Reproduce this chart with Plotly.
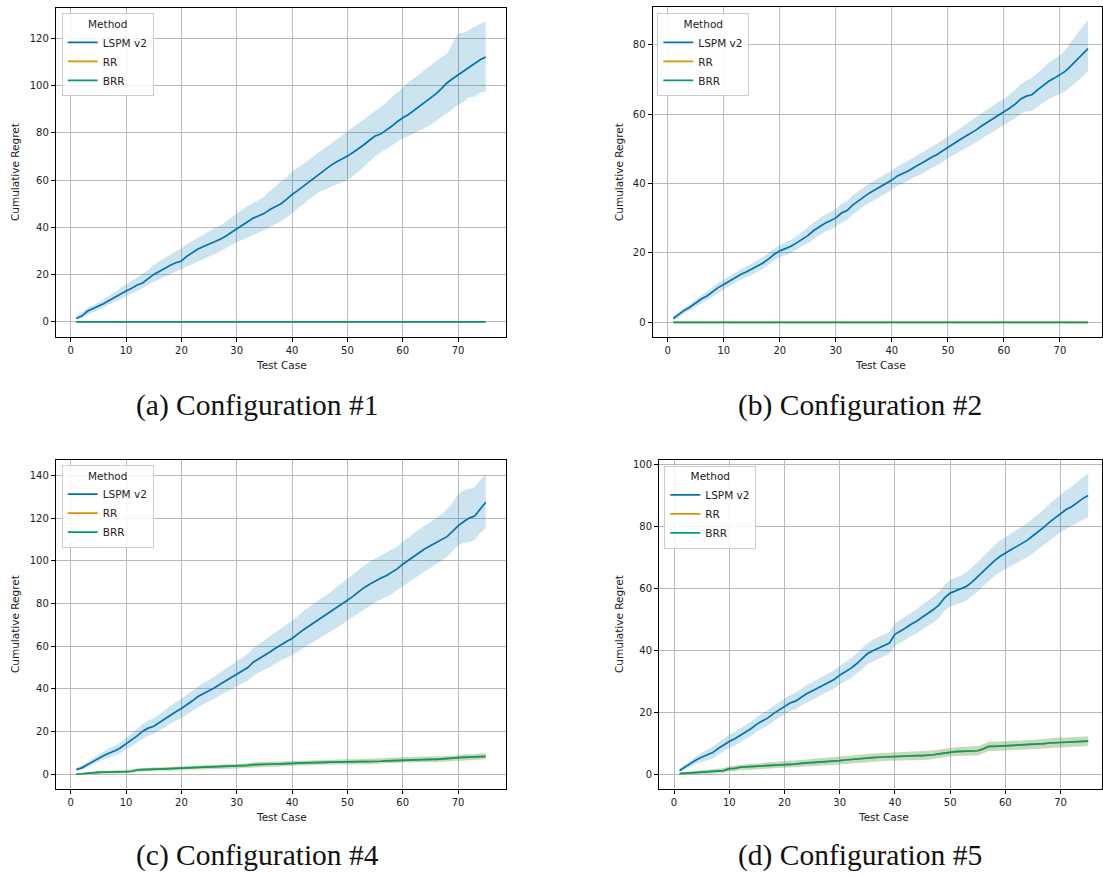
import plotly.graph_objects as go

W, H = 1103, 875

test_case = list(range(1, 76))
methods = ["LSPM v2", "RR", "BRR"]
colors = {"LSPM v2": "#0173b2", "RR": "#de8f05", "BRR": "#029e73"}
bands = {"LSPM v2": "rgba(1,115,178,0.2)", "RR": "rgba(222,143,5,0.2)", "BRR": "rgba(2,158,115,0.2)"}

# ---- Configuration #1 ----
cfg1_lspm = [1.5, 2.5, 4.5, 5.5, 6.5, 7.8, 9.2, 10.6, 11.7, 13.1,
             14.2, 15.6, 16.5, 18.2, 20.1, 21.3, 22.7, 24.0, 25.0, 25.8,
             27.8, 29.4, 30.8, 31.9, 32.8, 33.9, 35.0, 36.2, 37.8, 39.3,
             40.9, 42.5, 43.9, 44.9, 45.9, 47.5, 48.8, 50.0, 51.8, 53.9,
             55.5, 57.3, 59.2, 60.8, 62.8, 64.7, 66.2, 67.6, 68.8, 70.1,
             71.6, 73.2, 74.9, 76.8, 78.6, 79.4, 80.9, 82.7, 84.6, 86.3,
             87.6, 89.4, 91.0, 92.7, 94.5, 96.4, 98.6, 101.0, 102.8, 104.4,
             106.0, 107.5, 109.0, 110.8, 112.0]
cfg1_lspm_hi = [2.7, 4.0, 6.0, 7.0, 8.2, 9.6, 11.2, 12.7, 14.2, 15.9,
                17.2, 18.8, 20.2, 22.0, 24.1, 25.6, 27.0, 28.6, 30.0, 31.1,
                32.9, 34.2, 35.6, 36.8, 38.2, 39.6, 40.8, 42.2, 44.0, 45.9,
                47.5, 49.0, 50.4, 51.7, 53.0, 55.5, 57.2, 59.5, 61.2, 63.5,
                65.0, 66.8, 68.5, 70.2, 72.0, 73.8, 75.5, 77.3, 78.8, 80.4,
                82.2, 84.0, 85.8, 87.5, 89.2, 90.8, 92.8, 95.0, 97.2, 99.4,
                101.2, 103.0, 104.8, 106.6, 108.6, 110.6, 112.0, 113.2, 117.7, 122.0,
                122.2, 123.5, 124.8, 126.0, 127.0]
cfg1_lspm_lo = [0.8, 1.9, 3.2, 4.2, 5.1, 6.2, 7.5, 8.7, 9.9, 11.1,
                12.1, 13.2, 14.3, 15.7, 17.0, 18.0, 19.2, 20.3, 21.2, 22.0,
                23.2, 24.4, 25.5, 26.6, 27.6, 28.7, 29.9, 31.0, 32.4, 33.7,
                34.8, 35.8, 36.8, 37.8, 38.9, 40.0, 41.3, 42.6, 44.2, 45.9,
                47.8, 49.8, 51.8, 53.6, 55.1, 56.0, 56.9, 57.9, 59.0, 60.0,
                61.6, 63.5, 65.5, 67.8, 69.9, 71.4, 72.9, 74.5, 76.0, 77.6,
                78.5, 79.6, 80.8, 82.0, 83.2, 84.8, 86.6, 88.4, 90.0, 91.7,
                93.0, 95.0, 95.2, 97.0, 97.3]
cfg1_rr = [0.0] * 75
cfg1_rr_spread = [0.0] * 75

# ---- Configuration #2 ----
cfg2_lspm = [1.1, 2.4, 3.5, 4.4, 5.6, 6.7, 7.6, 8.9, 10.0, 10.9,
             11.9, 13.0, 13.8, 14.5, 15.3, 16.2, 17.1, 18.3, 19.6, 20.6,
             21.2, 21.9, 22.9, 24.0, 25.0, 26.4, 27.5, 28.5, 29.3, 30.1,
             31.5, 32.2, 33.8, 35.0, 36.3, 37.3, 38.2, 39.1, 40.0, 41.0,
             42.2, 42.9, 43.7, 44.7, 45.5, 46.5, 47.5, 48.3, 49.4, 50.5,
             51.5, 52.5, 53.5, 54.4, 55.4, 56.6, 57.6, 58.5, 59.6, 60.6,
             61.7, 62.9, 64.4, 65.2, 65.6, 67.0, 68.3, 69.5, 70.4, 71.3,
             72.4, 74.0, 75.6, 77.2, 78.9]
cfg2_lspm_hi = [1.8, 3.1, 4.3, 5.3, 6.6, 7.8, 8.8, 10.2, 11.4, 12.3,
                13.3, 14.4, 15.3, 16.0, 16.9, 17.9, 18.8, 20.0, 21.2, 22.3,
                23.0, 23.8, 24.9, 26.1, 27.3, 28.8, 30.0, 31.0, 31.8, 32.7,
                34.2, 35.0, 36.6, 37.8, 39.0, 40.0, 41.0, 41.9, 42.8, 43.8,
                45.0, 45.8, 46.6, 47.6, 48.5, 49.6, 50.6, 51.4, 52.5, 53.7,
                54.7, 55.8, 56.9, 57.9, 59.0, 60.2, 61.3, 62.3, 63.5, 64.4,
                65.6, 67.0, 68.6, 69.7, 70.4, 71.9, 73.4, 74.8, 75.9, 77.0,
                78.6, 80.8, 83.0, 85.2, 87.0]
cfg2_lspm_lo = [0.4, 1.6, 2.7, 3.5, 4.6, 5.6, 6.4, 7.6, 8.6, 9.4,
                10.4, 11.5, 12.3, 13.0, 13.7, 14.5, 15.4, 16.5, 17.8, 18.8,
                19.4, 20.0, 21.0, 22.0, 22.8, 24.0, 25.1, 26.0, 26.8, 27.5,
                28.8, 29.5, 31.0, 32.2, 33.5, 34.5, 35.4, 36.3, 37.2, 38.2,
                39.4, 40.0, 40.8, 41.8, 42.5, 43.4, 44.4, 45.1, 46.2, 47.2,
                48.2, 49.1, 50.1, 50.9, 51.8, 53.0, 53.9, 54.7, 55.7, 56.8,
                57.8, 58.8, 60.2, 60.8, 61.0, 62.2, 63.3, 64.4, 65.1, 65.8,
                66.6, 67.9, 69.4, 70.8, 72.3]
cfg2_rr = [0.0] * 75
cfg2_rr_spread = [0.0] * 75

# ---- Configuration #4 ----
cfg4_lspm = [2.2, 3.0, 4.5, 6.0, 7.6, 8.8, 10.0, 11.0, 12.4, 14.2,
             16.0, 18.0, 20.2, 21.6, 22.5, 24.2, 26.0, 28.0, 29.3, 30.8,
             32.5, 34.4, 36.4, 37.7, 38.9, 40.5, 42.2, 43.8, 45.4, 47.0,
             48.4, 50.0, 52.5, 54.0, 55.6, 57.3, 59.0, 60.8, 62.2, 63.6,
             65.7, 67.6, 69.3, 71.0, 72.6, 74.4, 76.0, 77.8, 79.6, 81.5,
             83.3, 85.4, 87.4, 89.0, 90.5, 91.8, 93.0, 94.5, 96.2, 98.4,
             100.2, 102.0, 104.0, 105.6, 107.0, 108.4, 110.2, 111.3, 113.8, 116.4,
             118.3, 120.0, 121.0, 124.4, 127.4]
cfg4_lspm_hi = [3.0, 4.0, 5.8, 7.6, 9.4, 10.8, 12.2, 13.4, 15.0, 17.0,
                19.0, 21.2, 23.6, 25.2, 26.2, 28.1, 30.1, 32.3, 33.8, 35.4,
                37.3, 39.4, 41.5, 43.0, 44.2, 46.0, 47.8, 49.6, 51.3, 53.0,
                54.6, 56.4, 59.2, 60.9, 62.6, 64.6, 66.5, 68.5, 70.2, 71.9,
                74.2, 76.3, 78.2, 80.0, 81.6, 83.5, 85.4, 87.6, 89.7, 91.7,
                93.6, 95.8, 97.8, 99.5, 101.0, 102.3, 103.6, 105.1, 106.8, 109.0,
                110.9, 112.8, 114.9, 116.6, 118.0, 119.8, 121.8, 124.0, 127.2, 131.2,
                133.0, 133.8, 134.5, 137.8, 140.6]
cfg4_lspm_lo = [1.4, 2.1, 3.4, 4.6, 5.9, 7.0, 8.0, 8.8, 10.0, 11.6,
                13.1, 14.9, 16.8, 18.0, 19.0, 20.5, 22.0, 23.8, 25.0, 26.4,
                27.9, 29.6, 31.4, 32.7, 33.9, 35.3, 36.8, 38.2, 39.7, 41.3,
                42.5, 43.9, 46.2, 47.5, 48.9, 50.4, 51.9, 53.4, 54.6, 55.8,
                57.6, 59.3, 60.8, 62.3, 64.0, 65.6, 67.0, 68.6, 70.2, 72.0,
                73.6, 75.5, 77.2, 78.8, 80.5, 81.8, 83.0, 84.4, 86.0, 88.2,
                89.9, 91.5, 93.3, 95.0, 96.6, 98.2, 100.0, 101.8, 104.6, 107.2,
                108.5, 108.8, 109.6, 113.0, 115.4]
cfg4_rr = [0.0, 0.3, 0.6, 0.8, 0.9, 1.0, 1.0, 1.1, 1.2, 1.2,
           1.4, 2.0, 2.2, 2.2, 2.3, 2.4, 2.5, 2.6, 2.8, 3.0,
           3.0, 3.1, 3.2, 3.3, 3.4, 3.5, 3.6, 3.7, 3.7, 3.7,
           3.9, 4.2, 4.5, 4.5, 4.6, 4.7, 4.8, 4.9, 5.1, 5.2,
           5.2, 5.3, 5.3, 5.4, 5.5, 5.6, 5.7, 5.8, 5.8, 5.8,
           5.8, 5.9, 5.9, 5.9, 6.0, 6.1, 6.3, 6.4, 6.5, 6.8,
           6.8, 6.8, 6.9, 6.9, 7.0, 7.0, 7.1, 7.3, 7.6, 7.8,
           7.9, 8.0, 8.1, 8.3, 8.4]
cfg4_rr_spread = [0.2, 0.3, 0.4, 0.5, 0.5, 0.6, 0.6, 0.7, 0.7, 0.8,
                  0.8, 0.8, 0.9, 0.9, 0.9, 0.9, 0.9, 1.0, 1.0, 1.0,
                  1.0, 1.0, 1.0, 1.0, 1.0, 1.0, 1.0, 1.0, 1.0, 1.0,
                  1.0, 1.1, 1.1, 1.1, 1.1, 1.1, 1.1, 1.1, 1.1, 1.1,
                  1.1, 1.1, 1.1, 1.1, 1.1, 1.2, 1.2, 1.2, 1.2, 1.2,
                  1.2, 1.2, 1.2, 1.2, 1.2, 1.2, 1.2, 1.2, 1.3, 1.3,
                  1.3, 1.3, 1.3, 1.3, 1.3, 1.3, 1.3, 1.3, 1.3, 1.3,
                  1.3, 1.4, 1.4, 1.4, 1.4]

# ---- Configuration #5 ----
cfg5_lspm = [1.2, 2.4, 3.5, 4.6, 5.5, 6.2, 7.0, 8.3, 9.6, 10.6,
             11.5, 12.6, 13.6, 14.8, 16.2, 17.2, 18.2, 19.6, 20.8, 21.9,
             23.0, 23.6, 24.8, 26.0, 26.9, 27.8, 28.9, 29.8, 30.6, 32.0,
             33.1, 34.2, 35.6, 37.3, 38.9, 39.9, 40.8, 41.6, 42.4, 45.2,
             46.2, 47.3, 48.5, 49.5, 50.8, 51.9, 53.2, 54.7, 57.0, 58.5,
             59.2, 59.8, 60.7, 62.1, 63.8, 65.6, 67.3, 68.9, 70.3, 71.5,
             72.5, 73.5, 74.6, 75.6, 77.0, 78.3, 79.8, 81.4, 82.8, 84.4,
             85.5, 86.4, 87.8, 89.0, 90.0]
cfg5_lspm_hi = [1.8, 3.2, 4.5, 5.8, 7.0, 7.9, 8.9, 10.3, 11.7, 12.8,
                13.7, 14.8, 15.9, 17.1, 18.6, 19.6, 20.7, 22.1, 23.4, 24.5,
                25.6, 26.3, 27.5, 28.8, 29.7, 30.7, 31.8, 32.8, 33.6, 35.0,
                36.2, 37.4, 38.9, 40.7, 42.3, 43.4, 44.3, 45.2, 46.0, 48.8,
                49.9, 51.0, 52.3, 53.4, 54.8, 56.0, 57.3, 58.9, 61.2, 62.8,
                63.5, 64.2, 65.2, 66.7, 68.5, 70.4, 72.2, 73.9, 75.4, 76.7,
                77.7, 78.8, 80.0, 81.1, 82.6, 84.0, 85.6, 87.3, 88.8, 90.6,
                91.8, 92.8, 94.4, 95.8, 97.0]
cfg5_lspm_lo = [0.6, 1.6, 2.5, 3.4, 4.0, 4.5, 5.1, 6.3, 7.5, 8.4,
                9.3, 10.4, 11.4, 12.5, 13.8, 14.8, 15.7, 17.1, 18.2, 19.3,
                20.4, 20.9, 22.1, 23.2, 24.1, 24.9, 26.0, 26.8, 27.6, 29.0,
                30.0, 31.0, 32.3, 33.9, 35.5, 36.4, 37.3, 38.0, 38.8, 41.6,
                42.5, 43.6, 44.7, 45.6, 46.8, 47.8, 49.1, 50.5, 52.8, 54.2,
                54.9, 55.4, 56.2, 57.5, 59.1, 60.8, 62.4, 63.9, 65.2, 66.3,
                67.3, 68.2, 69.2, 70.1, 71.4, 72.6, 74.0, 75.5, 76.8, 78.2,
                79.2, 80.0, 81.2, 82.2, 83.0]
cfg5_rr = [0.2, 0.3, 0.4, 0.5, 0.6, 0.7, 0.8, 1.0, 1.2, 1.8,
           1.9, 2.3, 2.4, 2.4, 2.4, 2.7, 2.8, 2.9, 3.0, 3.1,
           3.2, 3.3, 3.5, 3.6, 3.8, 3.9, 4.0, 4.1, 4.3, 4.4,
           4.6, 4.8, 5.0, 5.1, 5.3, 5.4, 5.5, 5.6, 5.7, 5.8,
           5.9, 5.9, 6.0, 6.0, 6.0, 6.1, 6.3, 6.6, 6.9, 7.2,
           7.3, 7.4, 7.5, 7.5, 7.6, 8.2, 9.0, 9.0, 9.1, 9.1,
           9.1, 9.2, 9.3, 9.4, 9.6, 9.7, 9.9, 10.1, 10.2, 10.3,
           10.3, 10.4, 10.5, 10.6, 10.7]
cfg5_rr_spread = [0.3, 0.4, 0.5, 0.5, 0.6, 0.6, 0.7, 0.7, 0.8, 0.8,
                  0.9, 0.9, 1.0, 1.0, 1.0, 1.0, 1.1, 1.1, 1.1, 1.1,
                  1.1, 1.2, 1.2, 1.2, 1.2, 1.2, 1.2, 1.2, 1.2, 1.3,
                  1.3, 1.3, 1.3, 1.3, 1.3, 1.3, 1.3, 1.3, 1.3, 1.3,
                  1.3, 1.3, 1.4, 1.4, 1.4, 1.4, 1.4, 1.4, 1.4, 1.4,
                  1.4, 1.4, 1.4, 1.4, 1.5, 1.5, 1.5, 1.5, 1.5, 1.5,
                  1.5, 1.5, 1.5, 1.5, 1.5, 1.5, 1.6, 1.6, 1.6, 1.6,
                  1.6, 1.6, 1.6, 1.6, 1.6]

captions = ["(a) Configuration #1", "(b) Configuration #2",
            "(c) Configuration #4", "(d) Configuration #5"]
y_ticks = [[0, 20, 40, 60, 80, 100, 120],
           [0, 20, 40, 60, 80],
           [0, 20, 40, 60, 80, 100, 120, 140],
           [0, 20, 40, 60, 80, 100]]
x_ticks = [0, 10, 20, 30, 40, 50, 60, 70]


def fx(px):
    return px / W


def fy(py):
    return 1 - py / H


def rr_band(mean, spread):
    lo = [m - s for m, s in zip(mean, spread)]
    hi = [m + s for m, s in zip(mean, spread)]
    return lo, hi


panels = []
for (lspm, lo, hi, rr, spread) in [
    (cfg1_lspm, cfg1_lspm_lo, cfg1_lspm_hi, cfg1_rr, cfg1_rr_spread),
    (cfg2_lspm, cfg2_lspm_lo, cfg2_lspm_hi, cfg2_rr, cfg2_rr_spread),
    (cfg4_lspm, cfg4_lspm_lo, cfg4_lspm_hi, cfg4_rr, cfg4_rr_spread),
    (cfg5_lspm, cfg5_lspm_lo, cfg5_lspm_hi, cfg5_rr, cfg5_rr_spread),
]:
    rlo, rhi = rr_band(rr, spread)
    panels.append({
        "LSPM v2": (lspm, lo, hi),
        "RR": (rr, rlo, rhi),
        "BRR": (rr, rlo, rhi),
    })

# pixel geometry of each axes box: (left, right, top, bottom), plus data ranges
geom = [
    dict(box=(55.8, 506.2, 7.5, 337.0), xr=[-2.7, 78.7], yr=[-6.35, 132.9],
         leg=(61.7, 13.3), cap=(257, 405), ytitle=(15, 172), xtitle=(281, 365)),
    dict(box=(652.6, 1102.0, 7.0, 337.4), xr=[-2.7, 77.5], yr=[-4.35, 90.9],
         leg=(657.3, 13.3), cap=(860, 405), ytitle=(619, 172), xtitle=(880, 365)),
    dict(box=(55.8, 506.2, 459.6, 789.2), xr=[-2.7, 78.7], yr=[-7.0, 147.4],
         leg=(61.7, 465.0), cap=(257, 855), ytitle=(15, 624), xtitle=(281, 817)),
    dict(box=(659.1, 1102.0, 459.6, 789.3), xr=[-2.7, 77.5], yr=[-4.85, 101.6],
         leg=(664.3, 465.7), cap=(860, 855), ytitle=(619, 624), xtitle=(883, 817)),
]

fig = go.Figure()
tick_font = dict(family="DejaVu Sans", size=10, color="#222222")
layout = dict(width=W, height=H, margin=dict(l=0, r=0, t=0, b=0),
              paper_bgcolor="white", plot_bgcolor="white", annotations=[])

for i, (data, g) in enumerate(zip(panels, geom)):
    k = "" if i == 0 else str(i + 1)
    xa, ya = "x" + k, "y" + k
    leg = "legend" + k
    # confidence bands behind all lines
    for m in methods:
        mean, lo, hi = data[m]
        fig.add_trace(go.Scatter(
            x=test_case + test_case[::-1], y=hi + lo[::-1],
            mode="lines", fill="toself", fillcolor=bands[m],
            line=dict(width=0), hoverinfo="skip", showlegend=False,
            xaxis=xa, yaxis=ya))
    for m in methods:
        mean = data[m][0]
        fig.add_trace(go.Scatter(
            x=test_case, y=mean, mode="lines", name=m,
            line=dict(color=colors[m], width=1.7),
            xaxis=xa, yaxis=ya, legend=leg, showlegend=True))

    left, right, top, bottom = g["box"]
    axis_common = dict(showline=True, mirror=True, linecolor="black", linewidth=1,
                       ticks="outside", ticklen=4, tickcolor="black", tickwidth=1,
                       showgrid=True, gridcolor="#b8b8b8", gridwidth=1,
                       zeroline=False, tickfont=tick_font)
    layout["xaxis" + k] = dict(axis_common, domain=[fx(left), fx(right)], range=g["xr"],
                               anchor=ya, tickmode="array", tickvals=x_ticks)
    layout["yaxis" + k] = dict(axis_common, domain=[fy(bottom), fy(top)], range=g["yr"],
                               anchor=xa, tickmode="array", tickvals=y_ticks[i])
    lx, ly = g["leg"]
    layout[leg] = dict(
        x=fx(lx), y=fy(ly), xanchor="left", yanchor="top",
        bgcolor="rgba(255,255,255,0.85)", bordercolor="#cccccc", borderwidth=1,
        font=dict(family="DejaVu Sans", size=10.5, color="#222222"),
        title=dict(text="Method", side="top center",
                   font=dict(family="DejaVu Sans", size=10.5, color="#222222")),
        itemwidth=30, tracegroupgap=0, traceorder="normal")

    cx, cy = g["cap"]
    layout["annotations"].append(dict(
        text=captions[i], x=fx(cx), y=fy(cy), xref="paper", yref="paper",
        xanchor="center", yanchor="middle", showarrow=False,
        font=dict(family="Liberation Serif", size=29.5, color="#111111")))
    tx, ty = g["xtitle"]
    layout["annotations"].append(dict(
        text="Test Case", x=fx(tx), y=fy(ty), xref="paper", yref="paper",
        xanchor="center", yanchor="middle", showarrow=False,
        font=dict(family="DejaVu Sans", size=10.5, color="#222222")))
    vx, vy = g["ytitle"]
    layout["annotations"].append(dict(
        text="Cumulative Regret", x=fx(vx), y=fy(vy), xref="paper", yref="paper",
        xanchor="center", yanchor="middle", textangle=-90, showarrow=False,
        font=dict(family="DejaVu Sans", size=10.5, color="#222222")))

fig.update_layout(**layout)
fig.write_html("out.html")
